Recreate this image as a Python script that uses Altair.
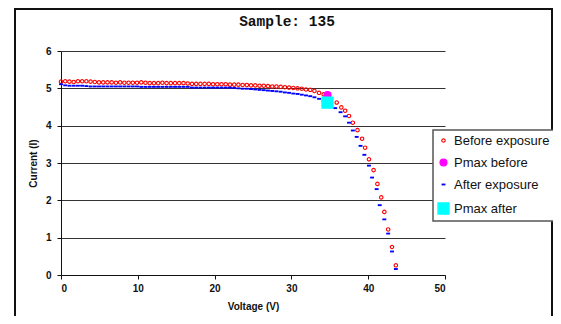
import altair as alt
import pandas as pd

# ---- data ----
before_v = [0.0, 0.55, 1.1, 1.65, 2.2, 2.75, 3.3, 3.85, 4.4, 4.95,
            5.5, 6.05, 6.6, 7.15, 7.7, 8.25, 8.8, 9.35, 9.9, 10.45,
            11.0, 11.55, 12.1, 12.65, 13.2, 13.75, 14.3, 14.85, 15.4, 15.95,
            16.5, 17.05, 17.6, 18.15, 18.7, 19.25, 19.8, 20.35, 20.9, 21.45,
            22.0, 22.55, 23.1, 23.65, 24.2, 24.75, 25.3, 25.85, 26.4, 26.95,
            27.5, 28.05, 28.6, 29.15, 29.7, 30.25, 30.8, 31.35, 31.9, 32.45,
            33.0, 33.6, 34.2, 34.8,
            35.9, 36.5, 37.0, 37.5, 38.0, 38.6, 39.2, 39.6, 40.1, 40.7,
            41.2, 41.7, 42.1, 42.6, 43.1, 43.6]
before_i = [5.18, 5.19, 5.18, 5.17, 5.19, 5.19, 5.19, 5.18, 5.17, 5.16,
            5.16, 5.16, 5.16, 5.15, 5.16, 5.15, 5.15, 5.15, 5.15, 5.16,
            5.15, 5.14, 5.14, 5.14, 5.15, 5.14, 5.14, 5.14, 5.14, 5.14,
            5.13, 5.12, 5.12, 5.12, 5.12, 5.12, 5.11, 5.11, 5.11, 5.11,
            5.10, 5.10, 5.10, 5.09, 5.09, 5.08, 5.08, 5.07, 5.07, 5.06,
            5.05, 5.05, 5.04, 5.03, 5.02, 5.01, 5.00, 4.99, 4.97, 4.96,
            4.93, 4.88, 4.84, 4.78,
            4.62, 4.49, 4.40, 4.26, 4.08, 3.88, 3.65, 3.41, 3.10, 2.81,
            2.44, 2.08, 1.69, 1.22, 0.75, 0.26]

after_v = [0.0, 0.55, 1.1, 1.65, 2.2, 2.75, 3.3, 3.85, 4.4, 4.95,
           5.5, 6.05, 6.6, 7.15, 7.7, 8.25, 8.8, 9.35, 9.9, 10.45,
           11.0, 11.55, 12.1, 12.65, 13.2, 13.75, 14.3, 14.85, 15.4, 15.95,
           16.5, 17.05, 17.6, 18.15, 18.7, 19.25, 19.8, 20.35, 20.9, 21.45,
           22.0, 22.55, 23.1, 23.65, 24.2, 24.75, 25.3, 25.85, 26.4, 26.95,
           27.5, 28.05, 28.6, 29.15, 29.7, 30.25, 30.8, 31.35, 31.9, 32.45,
           33.0, 33.6, 34.2,
           35.7, 36.4, 37.0, 37.5, 38.0, 38.5, 39.0, 39.5, 40.1, 40.5,
           41.1, 41.5, 42.1, 42.6, 43.1, 43.6]
after_i = [5.11, 5.08, 5.07, 5.07, 5.07, 5.07, 5.06, 5.05, 5.05, 5.05,
           5.05, 5.05, 5.05, 5.05, 5.05, 5.05, 5.05, 5.05, 5.05, 5.04,
           5.04, 5.04, 5.04, 5.04, 5.04, 5.04, 5.04, 5.04, 5.04, 5.04,
           5.04, 5.02, 5.02, 5.02, 5.02, 5.02, 5.02, 5.02, 5.02, 5.02,
           5.02, 5.01, 5.00, 4.99, 4.99, 4.98, 4.97, 4.96, 4.95, 4.94,
           4.93, 4.92, 4.91, 4.89, 4.88, 4.86, 4.85, 4.83, 4.81, 4.79,
           4.76, 4.72, 4.67,
           4.47, 4.36, 4.25, 4.08, 3.87, 3.70, 3.46, 3.22, 2.93, 2.61,
           2.30, 1.87, 1.49, 1.11, 0.63, 0.16]

pmax_before_v = [34.7]
pmax_before_i = [4.82]
pmax_after_v = [34.7]
pmax_after_i = [4.62]

series_names = ["Before exposure", "Pmax before", "After exposure", "Pmax after"]
stroke_colors = ["#ff0000", "#ff00ff", "#0000ff", "#00ffff"]
fill_colors = ["transparent", "#ff00ff", "#0000ff", "#00ffff"]
dash_shape = "M-0.3,-0.08L0.3,-0.08L0.3,0.08L-0.3,0.08Z"
shapes = ["circle", "circle", dash_shape, "square"]
sizes = [12, 125, 16, 125]

x_ticks = [0, 10, 20, 30, 40, 50]
y_ticks = [0, 1, 2, 3, 4, 5, 6]

assert len(before_v) == len(before_i)
assert len(after_v) == len(after_i)

rows = []
for name, vs, cs in [(series_names[0], before_v, before_i),
                     (series_names[1], pmax_before_v, pmax_before_i),
                     (series_names[2], after_v, after_i),
                     (series_names[3], pmax_after_v, pmax_after_i)]:
    for v, c in zip(vs, cs):
        rows.append({"v": v, "i": c, "series": name})
df = pd.DataFrame(rows)

FONT = "Liberation Sans"

points = alt.Chart(df).mark_point(filled=True, strokeWidth=1.1, opacity=1).encode(
    x=alt.X("v:Q", scale=alt.Scale(domain=[0, 50], nice=False),
            axis=alt.Axis(values=x_ticks, grid=False, title="Voltage (V)",
                          titleX=192, titleY=31, titleBaseline="middle",
                          titleAlign="center")),
    y=alt.Y("i:Q", scale=alt.Scale(domain=[0, 6], nice=False),
            axis=alt.Axis(values=y_ticks, grid=True, title="Current (I)",
                          titleX=-28, titleY=112, titleAngle=270,
                          titleAlign="center", titleBaseline="middle")),
    shape=alt.Shape("series:N", scale=alt.Scale(domain=series_names, range=shapes),
                    legend=alt.Legend(title=None)),
    fill=alt.Fill("series:N", scale=alt.Scale(domain=series_names, range=fill_colors),
                  legend=alt.Legend(title=None)),
    stroke=alt.Stroke("series:N", scale=alt.Scale(domain=series_names, range=stroke_colors),
                      legend=alt.Legend(title=None)),
    size=alt.Size("series:N", scale=alt.Scale(domain=series_names, range=sizes),
                  legend=alt.Legend(title=None)),
)

# outer chart frame (top, left and right sides; bottom lies below the window)
frame_df = pd.DataFrame({"k": [0]})
frame_top = alt.Chart(frame_df).mark_rule(color="#111", strokeWidth=2).encode(
    x=alt.value(-46), x2=alt.value(491), y=alt.value(-42))
frame_left = alt.Chart(frame_df).mark_rule(color="#111", strokeWidth=2).encode(
    x=alt.value(-46), y=alt.value(-43), y2=alt.value(265))
frame_right = alt.Chart(frame_df).mark_rule(color="#111", strokeWidth=2).encode(
    x=alt.value(491), y=alt.value(-43), y2=alt.value(265))

chart = alt.layer(frame_top, frame_left, frame_right, points).properties(
    width=384, height=224,
    autosize=alt.AutoSizeParams(type="none"),
    padding={"left": 53, "top": 43, "right": 108, "bottom": 41},
    title=alt.TitleParams("Sample: 135", font="Liberation Mono", fontSize=14.5,
                          fontWeight="bold", color="#111", anchor="middle",
                          dx=34, dy=42, offset=20),
).configure_view(stroke=None).configure_axis(
    labelFont=FONT, labelFontSize=10, labelFontWeight="bold", labelColor="#111",
    titleFont=FONT, titleFontSize=10, titleFontWeight="bold", titleColor="#111",
    domainColor="#111", domainWidth=1, tickColor="#111", tickSize=4,
    gridColor="#333", gridWidth=1, gridOpacity=1,
).configure_axisX(labelPadding=4).configure_axisY(labelPadding=6).configure_legend(
    orient="none", legendX=372, legendY=79,
    padding=4, rowPadding=8, labelFont=FONT, labelFontSize=13, labelColor="#111",
    labelOffset=4, strokeColor="#555", fillColor="white", cornerRadius=0,
    strokeWidth=1.5, symbolStrokeWidth=1.1, labelLimit=300,
)

chart.save("out.html", embed_options={"renderer": "svg", "actions": False})
